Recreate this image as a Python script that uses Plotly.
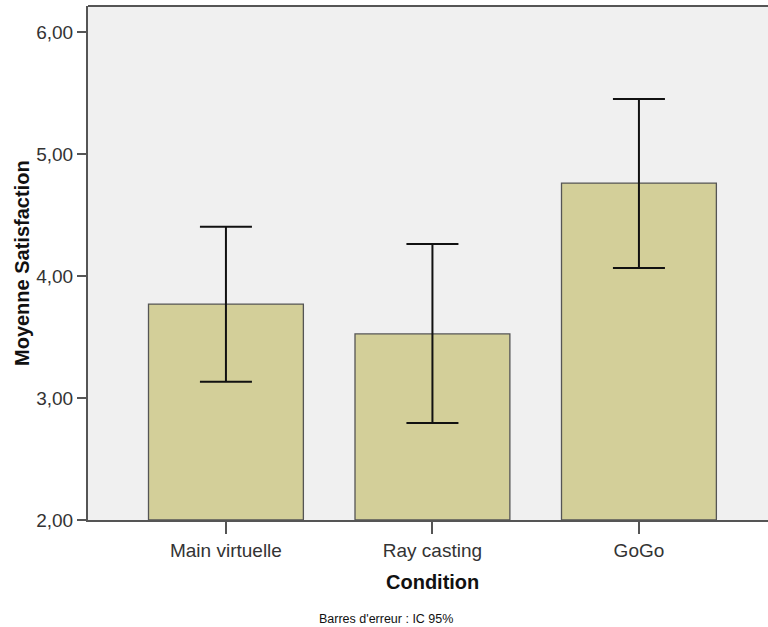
import plotly.graph_objects as go

# Mean satisfaction per condition, with 95% CI bounds
conditions = ["Main virtuelle", "Ray casting", "GoGo"]
means = [3.77, 3.525, 4.762]
ci_low = [3.134, 2.795, 4.066]
ci_high = [4.404, 4.262, 5.451]

y_base = 2.0
err_plus = [h - m for h, m in zip(ci_high, means)]
err_minus = [m - l for m, l in zip(means, ci_low)]

font_family = "Liberation Sans, Arial, sans-serif"
W, H = 768, 627
L, R, T, B = 88, 0, 6, 107


def px_to_paper(x, y):
    # pixel position in the image -> paper coordinates
    return (x - L) / (W - L - R), (H - B - y) / (H - T - B)


fig = go.Figure()
fig.add_trace(go.Bar(
    x=conditions,
    y=[m - y_base for m in means],
    base=y_base,
    width=0.75,
    marker=dict(color="#d3cf99", line=dict(color="#555555", width=1.3)),
    error_y=dict(type="data", symmetric=False, array=err_plus, arrayminus=err_minus,
                 color="#111111", thickness=2, width=26),
))

ann = []
for text, x, y, size, angle, bold in [
    ("Condition", 432, 582, 20, 0, True),
    ("Moyenne Satisfaction", 22, 263, 20, -90, True),
    ("Barres d'erreur : IC 95%", 386, 619, 12.5, 0, False),
]:
    px, py = px_to_paper(x, y)
    ann.append(dict(text=f"<b>{text}</b>" if bold else text, x=px, y=py,
                    xref="paper", yref="paper", xanchor="center", yanchor="middle",
                    textangle=angle, showarrow=False,
                    font=dict(size=size, color="#111111")))

fig.update_layout(
    width=W, height=H,
    margin=dict(l=L, r=R, t=T, b=B),
    paper_bgcolor="white",
    plot_bgcolor="#f0f0f0",
    separators=", ",
    showlegend=False,
    font=dict(family=font_family, color="#333333", size=19),
    xaxis=dict(
        range=[-0.668, 2.625],
        showline=True, linecolor="#555555", linewidth=2,
        ticks="outside", ticklen=12, tickwidth=2, tickcolor="#555555",
        tickfont=dict(size=19, color="#333333"),
        showgrid=False, zeroline=False,
    ),
    yaxis=dict(
        range=[2, 6.213],
        tickvals=[2, 3, 4, 5, 6],
        tickformat=".2f",
        showline=True, linecolor="#555555", linewidth=2,
        ticks="outside", ticklen=9, tickwidth=2, tickcolor="#555555",
        tickfont=dict(size=19, color="#333333"),
        showgrid=False, zeroline=False,
    ),
    annotations=ann,
)

# top border line
fig.add_shape(type="line", xref="paper", yref="paper", x0=0, x1=1, y0=1, y1=1,
              line=dict(color="#555555", width=2))

fig.write_html("out.html", config={"displayModeBar": False},
               post_script="document.body.style.margin='0';")
